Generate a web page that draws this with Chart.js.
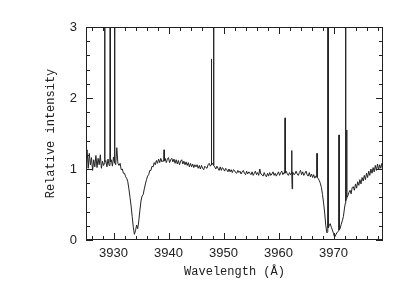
<!DOCTYPE html>
<html>
<head>
<meta charset="utf-8">
<script src="https://cdn.jsdelivr.net/npm/chart.js@4/dist/chart.umd.min.js"></script>
<style>
  html, body { margin: 0; padding: 0; background: #fff; }
  canvas { display: block; }
</style>
</head>
<body>
<canvas id="spec" width="395" height="306"></canvas>
<script>
// Wavelength samples (Angstrom), 0.2 A steps plus extra points around the narrow spikes
const wavelength = [
  3925, 3925.2, 3925.4, 3925.6, 3925.8, 3926, 3926.2, 3926.4, 3926.6, 3926.8,
  3927, 3927.2, 3927.4, 3927.6, 3927.8, 3928, 3928.2, 3928.36, 3928.4, 3928.44, 3928.6, 3928.8,
  3929, 3929.2, 3929.36, 3929.4, 3929.44, 3929.6, 3929.8, 3930, 3930.16, 3930.2, 3930.24, 3930.4, 3930.6, 3930.8,
  3931, 3931.2, 3931.4, 3931.6, 3931.8, 3932, 3932.2, 3932.4, 3932.6, 3932.8,
  3933, 3933.2, 3933.4, 3933.6, 3933.8, 3934, 3934.2, 3934.4, 3934.6, 3934.8,
  3935, 3935.2, 3935.4, 3935.6, 3935.8, 3936, 3936.2, 3936.4, 3936.6, 3936.8,
  3937, 3937.2, 3937.4, 3937.6, 3937.8, 3938, 3938.2, 3938.4, 3938.6, 3938.8,
  3939, 3939.16, 3939.2, 3939.24, 3939.4, 3939.6, 3939.8, 3940, 3940.2, 3940.4, 3940.6, 3940.8,
  3941, 3941.2, 3941.4, 3941.6, 3941.8, 3942, 3942.2, 3942.4, 3942.6, 3942.8,
  3943, 3943.2, 3943.4, 3943.6, 3943.8, 3944, 3944.2, 3944.4, 3944.6, 3944.8,
  3945, 3945.2, 3945.4, 3945.6, 3945.8, 3946, 3946.2, 3946.4, 3946.6, 3946.8,
  3947, 3947.2, 3947.4, 3947.6, 3947.76, 3947.8, 3947.84, 3948, 3948.16, 3948.2, 3948.24, 3948.4, 3948.6, 3948.8,
  3949, 3949.2, 3949.4, 3949.6, 3949.8, 3950, 3950.2, 3950.4, 3950.6, 3950.8,
  3951, 3951.2, 3951.4, 3951.6, 3951.8, 3952, 3952.2, 3952.4, 3952.6, 3952.8,
  3953, 3953.2, 3953.4, 3953.6, 3953.8, 3954, 3954.2, 3954.4, 3954.6, 3954.8,
  3955, 3955.2, 3955.4, 3955.6, 3955.8, 3956, 3956.2, 3956.4, 3956.6, 3956.8,
  3957, 3957.2, 3957.4, 3957.6, 3957.8, 3958, 3958.2, 3958.4, 3958.6, 3958.8,
  3959, 3959.2, 3959.4, 3959.6, 3959.8, 3960, 3960.2, 3960.4, 3960.6, 3960.8,
  3961, 3961.16, 3961.2, 3961.24, 3961.4, 3961.6, 3961.8, 3962, 3962.2, 3962.36, 3962.4, 3962.44, 3962.48, 3962.52, 3962.6, 3962.8,
  3963, 3963.2, 3963.4, 3963.6, 3963.8, 3964, 3964.2, 3964.4, 3964.6, 3964.8,
  3965, 3965.2, 3965.4, 3965.6, 3965.8, 3966, 3966.2, 3966.4, 3966.6, 3966.8,
  3966.96, 3967, 3967.04, 3967.2, 3967.4, 3967.6, 3967.8, 3968, 3968.2, 3968.4, 3968.6, 3968.8,
  3968.96, 3969, 3969.04, 3969.2, 3969.4, 3969.6, 3969.8, 3970, 3970.2, 3970.4, 3970.6, 3970.8,
  3970.96, 3971, 3971.04, 3971.2, 3971.4, 3971.6, 3971.8, 3972, 3972.16, 3972.2, 3972.24, 3972.36, 3972.4, 3972.44, 3972.6, 3972.8,
  3973, 3973.2, 3973.4, 3973.6, 3973.8, 3974, 3974.2, 3974.4, 3974.6, 3974.8,
  3975, 3975.2, 3975.4, 3975.6, 3975.8, 3976, 3976.2, 3976.4, 3976.6, 3976.8,
  3977, 3977.2, 3977.4, 3977.6, 3977.8, 3978, 3978.2, 3978.4, 3978.6, 3978.8,
  3979
];

// Relative intensity (spikes that leave the frame set to 4)
const intensity = [
  1.18, 1.27, 1.01, 1.22, 1.06, 1.16, 0.98, 1.13, 1.03, 1.19,
  1.02, 1.15, 1.06, 1.20, 1.01, 1.11, 1.05, 1.08, 4.00, 1.10, 1.12, 1.03,
  1.14, 1.05, 1.10, 4.00, 1.10, 1.13, 1.04, 1.17, 1.09, 4.00, 1.09, 1.06, 1.30, 1.08,
  1.05, 1.08, 0.99, 1.00, 0.94, 0.94, 0.89, 0.87, 0.82, 0.72,
  0.60, 0.48, 0.33, 0.18, 0.08, 0.13, 0.21, 0.16, 0.27, 0.42,
  0.55, 0.62, 0.64, 0.72, 0.79, 0.85, 0.90, 0.92, 0.98, 0.98,
  1.04, 1.03, 1.09, 1.06, 1.12, 1.08, 1.14, 1.09, 1.15, 1.10,
  1.12, 1.11, 1.27, 1.12, 1.15, 1.09, 1.14, 1.16, 1.09, 1.13, 1.15, 1.10,
  1.14, 1.08, 1.13, 1.07, 1.12, 1.06, 1.11, 1.13, 1.07, 1.11,
  1.06, 1.10, 1.05, 1.09, 1.03, 1.08, 1.03, 1.07, 1.02, 1.06,
  1.03, 1.06, 1.01, 1.05, 1.00, 1.05, 1.01, 0.99, 1.04, 1.02,
  1.01, 1.06, 1.08, 1.04, 1.06, 2.55, 1.06, 1.08, 1.05, 4.00, 1.05, 1.03, 1.00, 1.04,
  1.01, 0.98, 1.03, 0.98, 1.02, 1.00, 0.97, 1.01, 0.99, 0.96,
  1.00, 0.96, 0.99, 0.95, 0.99, 0.98, 0.95, 0.94, 0.98, 0.95,
  0.97, 0.93, 0.96, 0.98, 0.94, 0.92, 0.97, 0.93, 0.96, 0.94,
  0.92, 0.96, 0.91, 0.94, 0.97, 0.92, 0.95, 0.91, 1.00, 0.93,
  0.92, 0.90, 0.95, 0.91, 0.89, 0.94, 0.90, 0.95, 0.91, 0.93,
  0.96, 0.91, 0.94, 0.90, 0.93, 0.96, 0.91, 0.95, 0.97, 0.92,
  0.95, 0.94, 1.72, 0.95, 0.97, 0.93, 0.91, 0.95, 0.92, 0.94, 1.26, 0.93, 0.72, 0.93, 0.96, 0.92,
  0.93, 0.97, 0.93, 0.91, 0.95, 0.98, 0.92, 0.96, 0.91, 0.94,
  0.97, 0.92, 0.90, 0.95, 0.89, 0.93, 0.88, 0.92, 0.87, 0.90,
  0.89, 1.22, 0.88, 0.87, 0.84, 0.80, 0.74, 0.64, 0.52, 0.38, 0.20, 0.10,
  0.12, 4.00, 0.17, 0.20, 0.23, 0.18, 0.14, 0.09, 0.04, 0.07, 0.10, 0.12,
  0.13, 1.48, 0.14, 0.16, 0.22, 0.27, 0.33, 0.45, 0.52, 4.00, 0.55, 0.58, 1.55, 0.60, 0.62, 0.67,
  0.70, 0.65, 0.74, 0.75, 0.70, 0.79, 0.73, 0.82, 0.77, 0.85,
  0.79, 0.88, 0.83, 0.91, 0.85, 0.94, 0.88, 0.97, 0.91, 1.00,
  0.94, 1.02, 0.96, 1.05, 0.98, 1.07, 0.99, 1.06, 1.01, 1.08,
  1.03
];

const xTickValues = [3930, 3940, 3950, 3960, 3970];
const xMinorValues = [3926, 3928, 3932, 3934, 3936, 3938, 3942, 3944, 3946, 3948,
  3952, 3954, 3956, 3958, 3962, 3964, 3966, 3968, 3972, 3974, 3976, 3978];
const yTickValues = [0, 1, 2, 3];
const yMinorValues = [0.2, 0.4, 0.6, 0.8, 1.2, 1.4, 1.6, 1.8, 2.2, 2.4, 2.6, 2.8];

const ink = '#222';

// frame with inward ticks on all four sides
const frameTicks = {
  id: 'frameTicks',
  afterDatasetsDraw(chart) {
    const { ctx, chartArea: a, scales: { x, y } } = chart;
    ctx.save();
    ctx.strokeStyle = ink;
    ctx.lineWidth = 1;
    ctx.strokeRect(a.left + 0.5, a.top + 0.5, a.right - a.left - 1, a.bottom - a.top - 1);
    ctx.beginPath();
    const xMark = (vals, len) => vals.forEach(v => {
      const px = Math.round(x.getPixelForValue(v)) + 0.5;
      ctx.moveTo(px, a.bottom); ctx.lineTo(px, a.bottom - len);
      ctx.moveTo(px, a.top); ctx.lineTo(px, a.top + len);
    });
    const yMark = (vals, len) => vals.forEach(v => {
      const py = Math.round(y.getPixelForValue(v)) + 0.5;
      ctx.moveTo(a.left, py); ctx.lineTo(a.left + len, py);
      ctx.moveTo(a.right, py); ctx.lineTo(a.right - len, py);
    });
    xMark(xTickValues, 7);
    xMark(xMinorValues, 4);
    yMark(yTickValues, 7);
    yMark(yMinorValues, 4);
    ctx.stroke();
    ctx.restore();
  }
};

new Chart(document.getElementById('spec'), {
  type: 'line',
  data: {
    datasets: [{
      data: wavelength.map((w, i) => ({ x: w, y: intensity[i] })),
      borderColor: ink,
      borderWidth: 1,
      pointRadius: 0,
      tension: 0,
      fill: false
    }]
  },
  options: {
    responsive: false,
    animation: false,
    layout: { padding: { top: 27, right: 12, left: 0, bottom: 0 } },
    plugins: { legend: { display: false }, tooltip: { enabled: false } },
    scales: {
      x: {
        type: 'linear',
        min: 3925,
        max: 3979,
        grid: { display: false, drawTicks: false },
        border: { display: false },
        afterBuildTicks: s => { s.ticks = xTickValues.map(v => ({ value: v })); },
        afterFit: s => { s.height = 66; },
        ticks: {
          padding: 6,
          maxRotation: 0,
          autoSkip: false,
          color: ink,
          font: { family: '"Liberation Sans", Arial, sans-serif', size: 13 },
          callback: v => String(v)
        },
        title: {
          display: true,
          text: 'Wavelength (Å)',
          color: ink,
          padding: { top: 0, bottom: 27 },
          font: { family: '"Liberation Mono", monospace', size: 12 }
        }
      },
      y: {
        min: 0,
        max: 3,
        grid: { display: false, drawTicks: false },
        border: { display: false },
        afterBuildTicks: s => { s.ticks = yTickValues.map(v => ({ value: v })); },
        afterFit: s => { s.width = 86; },
        ticks: {
          padding: 9,
          color: ink,
          font: { family: '"Liberation Sans", Arial, sans-serif', size: 13 }
        },
        title: {
          display: true,
          text: 'Relative intensity',
          color: ink,
          padding: { top: 44, bottom: 0 },
          font: { family: '"Liberation Mono", monospace', size: 12 }
        }
      }
    }
  },
  plugins: [frameTicks]
});
</script>
</body>
</html>
